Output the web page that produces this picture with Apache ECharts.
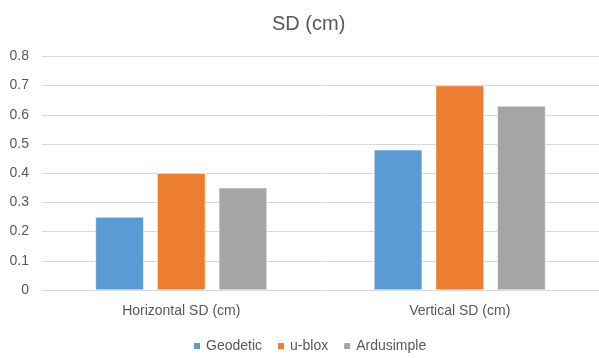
<!DOCTYPE html>
<html><head><meta charset="utf-8">
<script src="https://cdn.jsdelivr.net/npm/echarts@6/dist/echarts.min.js"></script>
<style>html,body{margin:0;padding:0;background:#fff}#c{width:599px;height:358px}</style>
</head><body><div id="c"></div>
<script>
const categories = ["Horizontal SD (cm)", "Vertical SD (cm)"];
const seriesNames = ["Geodetic", "u-blox", "Ardusimple"];
const geodetic = [0.25, 0.48];
const ublox = [0.40, 0.70];
const ardusimple = [0.35, 0.63];
const yTicks = [0, 0.1, 0.2, 0.3, 0.4, 0.5, 0.6, 0.7, 0.8];
const colors = ["#5b9bd5", "#ed7d31", "#a5a5a5"];
const values = [geodetic, ublox, ardusimple];
const font = "Liberation Sans, Arial, sans-serif";
const chart = echarts.init(document.getElementById('c'), null, {renderer: 'canvas'});
chart.setOption({
  animation: false,
  title: {text: "SD (cm)", left: 267, top: 9, textStyle: {fontFamily: font, fontSize: 20, fontWeight: 'normal', color: '#595959'}},
  legend: {data: seriesNames, left: 187, top: 334, itemWidth: 8, itemHeight: 8, itemGap: 14, icon: 'rect',
    textStyle: {fontFamily: font, fontSize: 14, color: '#595959'}},
  grid: {left: 42, width: 562, top: 56.4, height: 233.6, containLabel: false},
  xAxis: {type: 'category', data: categories,
    axisLine: {lineStyle: {color: '#d9d9d9'}}, axisTick: {show: false},
    axisLabel: {fontFamily: font, fontSize: 14, color: '#595959', margin: 14}},
  yAxis: {type: 'value', min: 0, max: 0.8, interval: 0.1,
    axisLine: {show: false}, axisTick: {show: false},
    splitLine: {lineStyle: {color: '#d9d9d9'}},
    axisLabel: {fontFamily: font, fontSize: 14, color: '#595959', margin: 13,
      formatter: v => { const t = yTicks.find(x => Math.abs(x - v) < 1e-9); return t === undefined ? '' : String(t); }}},
  series: seriesNames.map((n, i) => ({
    name: n, type: 'bar', data: values[i], barWidth: '17.3%', barGap: '28%',
    itemStyle: {color: colors[i], borderColor: '#ffffff', borderWidth: 0.5}
  }))
});
</script></body></html>
